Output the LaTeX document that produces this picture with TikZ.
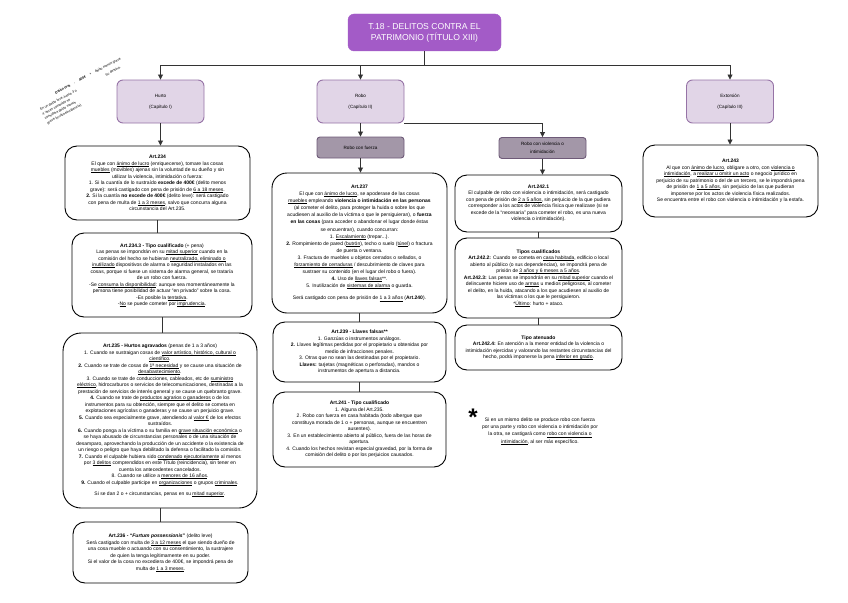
\documentclass[tikz,border=0pt]{standalone}
\usepackage{fontspec}
\setmainfont{Liberation Sans}
\usetikzlibrary{arrows.meta}

\newcommand{\ulin}[1]{\leavevmode\setbox0\hbox{#1}\rlap{\rule[-0.9pt]{\wd0}{0.3pt}}\box0\relax}

\definecolor{titlepurple}{HTML}{A35BC7}
\definecolor{chapfill}{HTML}{E1D5E7}
\definecolor{chapdraw}{HTML}{9673A6}
\definecolor{subfill}{HTML}{A397A8}
\definecolor{subdraw}{HTML}{6E5A78}
\definecolor{linegray}{HTML}{333333}

\tikzset{
  titlebox/.style={draw=titlepurple, fill=titlepurple, text=white, rounded corners=6pt,
    minimum width=153pt, minimum height=37pt, align=center,
    font=\fontsize{8.6}{11}\selectfont},
  chapter/.style={draw=chapdraw, fill=chapfill, rounded corners=6pt, line width=0.9pt,
    minimum width=87pt, minimum height=43pt, align=center,
    font=\fontsize{4.6}{11}\selectfont},
  subchapter/.style={draw=subdraw, fill=subfill, rounded corners=3pt, line width=0.9pt,
    minimum width=87pt, minimum height=21pt, align=center,
    font=\fontsize{4.6}{8}\selectfont},
  artbox/.style={draw=black, fill=white, rounded corners=12pt, line width=0.9pt,
    align=center, inner sep=2pt, font=\fontsize{5}{6.5}\selectfont},
  notetext/.style={align=center, font=\fontsize{5}{7.3}\selectfont},
  legend/.style={align=left, font=\fontsize{3.4}{5}\selectfont, rotate=28},
  link/.style={draw=linegray, line width=0.8pt},
  arrowlink/.style={link, -{Triangle[length=5pt,width=5pt]}},
}

\begin{document}
\begin{tikzpicture}[x=1pt, y=-1pt]
  \useasboundingbox (0,0) rectangle (848,602);

  % title and chapters
  \node[titlebox] (T) at (424.5,32.5) {T.18 - DELITOS CONTRA EL\\PATRIMONIO (TÍTULO XIII)};
  \node[chapter] (Hurto) at (160.5,101.5) {Hurto\\(Capítulo I)};
  \node[chapter] (Robo) at (360.5,101.5) {Robo\\(Capítulo II)};
  \node[chapter] (Extorsion) at (730,101.5) {Extorsión\\(Capítulo III)};
  \node[subchapter] (RoboF) at (360.5,147.5) {Robo con fuerza};
  \node[subchapter] (RoboV) at (542.5,148) {Robo con violencia o\\intimidación};

  % notes top left
  \node[legend] (legA) at (88,76) {\textbf{Delito leve} \quad - \quad \textbf{400€} \quad + \quad delito menos grave};
  \node[legend] (legB) at (113,71) {Su destino.};
  \node[legend] (legC) at (62,107) {En un delito leve, hasta 3 o\\4 veces cometido se\\considera delito menos\\grave (multirreincidencia).};

  % hurto
  \node[artbox, minimum width=185pt, minimum height=74pt] (A234) at (157.5,183) {%
    \textbf{Art.234}\\
    El que con \ulin{ánimo de lucro} (enriquecerse), tomare las cosas\\
    \ulin{muebles} (movibles) ajenas sin la voluntad de su dueño y sin\\
    utilizar la violencia, intimidación o fuerza:\\
    1. Si la cuantía de lo sustraído \textbf{excede de 400€} (delito menos\\
    grave): será castigado con pena de prisión de \ulin{6 a 18 meses}.\\
    \textbf{2.} Si la cuantía \textbf{no excede de 400€} (delito leve): será castigado\\
    con pena de multa de \ulin{1 a 3 meses}, salvo que concurra alguna\\
    circunstancia del Art.235.};
  \node[artbox, minimum width=180pt, minimum height=84pt] (A2343) at (162,275) {%
    \textbf{Art.234.3 - Tipo cualificado} (+ pena)\\
    Las penas se impondrán en su \ulin{mitad superior} cuando en la\\
    comisión del hecho se hubieran \ulin{neutralizado, eliminado o}\\
    \ulin{inutilizado} dispositivos de alarma o seguridad instalados en las\\
    cosas, porque si fuese un sistema de alarma general, se trataría\\
    de un robo con fuerza.\\
    -Se \ulin{consuma la disponibilidad}: aunque sea momentáneamente la\\
    persona tiene posibilidad de actuar ``en privado'' sobre la cosa.\\
    -Es posible la \ulin{tentativa}.\\
    -\ulin{No} se puede cometer por \ulin{imprudencia}.};
  \node[artbox, rounded corners=18pt, minimum width=194pt, minimum height=175pt] (A235) at (160,420.5) {%
    \textbf{Art.235 - Hurtos agravados} (penas de 1 a 3 años)\\
    1. Cuando se sustraigan cosas de \ulin{valor artístico, histórico, cultural o}\\
    \ulin{científico}.\\
    \textbf{2.} Cuando se trate de cosas de \ulin{1ª necesidad} y se cause una situación de\\
    \ulin{desabastecimiento}.\\
    3. Cuando se trate de conducciones, cableados, etc de \ulin{suministro}\\
    \ulin{eléctrico}, hidrocarburos o servicios de telecomunicaciones, destinadas a la\\
    prestación de servicios de interés general y se cause un quebranto grave.\\
    \textbf{4.} Cuando se trate de \ulin{productos agrarios o ganaderos} o de los\\
    instrumentos para su obtención, siempre que el delito se cometa en\\
    explotaciones agrícolas o ganaderas y se cause un perjuicio grave.\\
    \textbf{5.} Cuando sea especialmente grave, atendiendo al \ulin{valor €} de los efectos\\
    sustraídos.\\
    \textbf{6.} Cuando ponga a la víctima o su familia en \ulin{grave situación económica} o\\
    se haya abusado de circunstancias personales o de una situación de\\
    desamparo, aprovechando la producción de un accidente o la existencia de\\
    un riesgo o peligro que haya debilitado la defensa o facilitado la comisión.\\
    \textbf{7.} Cuando el culpable hubiera sido \ulin{condenado ejecutoriamente} al menos\\
    por \ulin{3 delitos} comprendidos en este Título (reincidencia), sin tener en\\
    cuenta los antecedentes cancelados.\\
    8. Cuando se utilice a \ulin{menores de 16 años}.\\
    \textbf{9.} Cuando el culpable participe en \ulin{organizaciones} o grupos \ulin{criminales}.\\[5pt]
    Si se dan 2 o + circunstancias, penas en su \ulin{mitad superior}.};
  \node[artbox, minimum width=175pt, minimum height=61pt] (A236) at (160.5,552.5) {%
    \textbf{Art.236 - ``\textit{Furtum possessionis}''} (delito leve)\\
    Será castigado con multa de \ulin{3 a 12 meses} el que siendo dueño de\\
    una cosa mueble o actuando con su consentimiento, la sustrajere\\
    de quien la tenga legítimamente en su poder.\\
    Si el valor de la cosa no excediera de 400€, se impondrá pena de\\
    multa de \ulin{1 a 3 meses}.};

  % robo con fuerza
  \node[artbox, rounded corners=15pt, minimum width=175pt, minimum height=140pt,
    font=\fontsize{5}{7.1}\selectfont] (A237) at (359.5,243) {%
    \textbf{Art.237}\\
    El que con \ulin{ánimo de lucro}, se apoderase de las cosas\\
    \ulin{muebles} empleando \textbf{violencia o intimidación en las personas}\\
    (al cometer el delito, para proteger la huida o sobre los que\\
    acudiesen al auxilio de la víctima o que le persiguieran), o \textbf{fuerza}\\
    \textbf{en las cosas} (para acceder o abandonar el lugar donde éstas\\
    se encuentran), cuando concurran:\\
    1. \ulin{Escalamiento} (trepar...).\\
    \textbf{2.} Rompimiento de pared (\ulin{butrón}), techo o suelo (\ulin{túnel}) o fractura\\
    de puerta o ventana.\\
    3. Fractura de muebles u objetos cerrados o sellados, o\\
    \ulin{forzamiento de cerraduras} / descubrimiento de claves para\\
    sustraer su contenido (en el lugar del robo o fuera).\\
    \textbf{4.} Uso de \ulin{llaves falsas}**.\\
    5. Inutilización de \ulin{sistemas de alarma} o guarda.\\[5pt]
    Será castigado con pena de prisión de \ulin{1 a 3 años} (\textbf{Art.240}).};
  \node[artbox, minimum width=173pt, minimum height=60pt] (A239) at (359.5,352) {%
    \textbf{Art.239 - Llaves falsas**}\\
    1. Ganzúas o instrumentos análogos.\\
    \textbf{2.} Llaves legítimas perdidas por el propietario u obtenidas por\\
    medio de infracciones penales.\\
    3. Otras que no sean las destinadas por el propietario.\\
    \textbf{Llaves:} tarjetas (magnéticas o perforadas), mandos o\\
    instrumentos de apertura a distancia.};
  \node[artbox, minimum width=173pt, minimum height=75pt] (A241) at (359.5,429.5) {%
    \textbf{Art.241 - Tipo cualificado}\\
    1. Alguna del Art.235.\\
    2. Robo con fuerza en casa habitada (todo albergue que\\
    constituya morada de 1 o + personas, aunque se encuentren\\
    ausentes).\\
    3. En un establecimiento abierto al público, fuera de las horas de\\
    apertura.\\
    4. Cuando los hechos revistan especial gravedad, por la forma de\\
    comisión del delito o por los perjuicios causados.};

  % robo con violencia
  \node[artbox, minimum width=167pt, minimum height=57pt] (A2421) at (538.5,203.5) {%
    \textbf{Art.242.1}\\
    El culpable de robo con violencia o intimidación, será castigado\\
    con pena de prisión de \ulin{2 a 5 años}, sin perjuicio de la que pudiera\\
    corresponder a los actos de violencia física que realizase (si se\\
    excede de la ``necesaria'' para cometer el robo, es una nueva\\
    violencia o intimidación).};
  \node[artbox, minimum width=167pt, minimum height=80pt] (A2422) at (538.5,278) {%
    \textbf{Tipos cualificados}\\
    \textbf{Art.242.2:} Cuando se cometa en \ulin{casa habitada}, edificio o local\\
    abierto al público (o sus dependencias), se impondrá pena de\\
    prisión de \ulin{3 años y 6 meses a 5 años}.\\
    \textbf{Art.242.3:} Las penas se impondrán en su \ulin{mitad superior} cuando el\\
    delincuente hiciere uso de \ulin{armas} u medios peligrosos, al cometer\\
    el delito, en la huida, atacando a los que acudiesen al auxilio de\\
    las víctimas o los que le persiguieron.\\
    *\ulin{Último}: hurto + ataco.};
  \node[artbox, minimum width=167pt, minimum height=45pt] (A2424) at (538.5,347.5) {%
    \textbf{Tipo atenuado}\\
    \textbf{Art.242.4:} En atención a la menor entidad de la violencia o\\
    intimidación ejercidas y valorando las restantes circunstancias del\\
    hecho, podrá imponerse la pena \ulin{inferior en grado}.};
  \node[font=\fontsize{24}{24}\selectfont\bfseries] (star) at (473,417) {*};
  \node[notetext] (note) at (540,431) {%
    Si en un mismo delito se produce robo con fuerza\\
    por una parte y robo con violencia o intimidación por\\
    la otra, se castigará como \ulin{robo con violencia o}\\
    \ulin{intimidación}, al ser más específico.};

  % extorsion
  \node[artbox, minimum width=175pt, minimum height=72pt] (A243) at (730.5,181) {%
    \textbf{Art.243}\\
    Al que con \ulin{ánimo de lucro}, obligare a otro, con \ulin{violencia o}\\
    \ulin{intimidación}, a \ulin{realizar u omitir un acto} o negocio jurídico en\\
    perjuicio de su patrimonio o del de un tercero, se le impondrá pena\\
    de prisión de \ulin{1 a 5 años}, sin perjuicio de las que pudieran\\
    imponerse por los actos de violencia física realizados.\\
    Se encuentra entre el robo con violencia o intimidación y la estafa.};

  % connectors
  \coordinate (bus) at (424.5,65);
  \draw[link] (T) -- (bus);
  \draw[arrowlink] (bus) -| (Hurto);
  \draw[arrowlink] (bus) -| (Robo);
  \draw[arrowlink] (bus) -| (Extorsion);
  \draw[arrowlink] (Robo) -- (RoboF);
  \draw[arrowlink] (Robo.south east) -| (RoboV);
  \draw[arrowlink] (Hurto.south) -- (Hurto.south |- A234.north);
  \draw[arrowlink] (RoboF) -- (RoboF |- A237.north);
  \draw[arrowlink] (RoboV) -- (RoboV |- A2421.north);
  \draw[arrowlink] (Extorsion) -- (Extorsion |- A243.north);
  \draw[link] (A234) -- (A234 |- A2343.north);
  \draw[link] (A2343) -- (A2343 |- A235.north);
  \draw[link] (A235) -- (A235 |- A236.north);
  \draw[link] (A237) -- (A239);
  \draw[link] (A239) -- (A241);
  \draw[link] (A2421) -- (A2422);
  \draw[link] (A2422) -- (A2424);
\end{tikzpicture}
\end{document}
